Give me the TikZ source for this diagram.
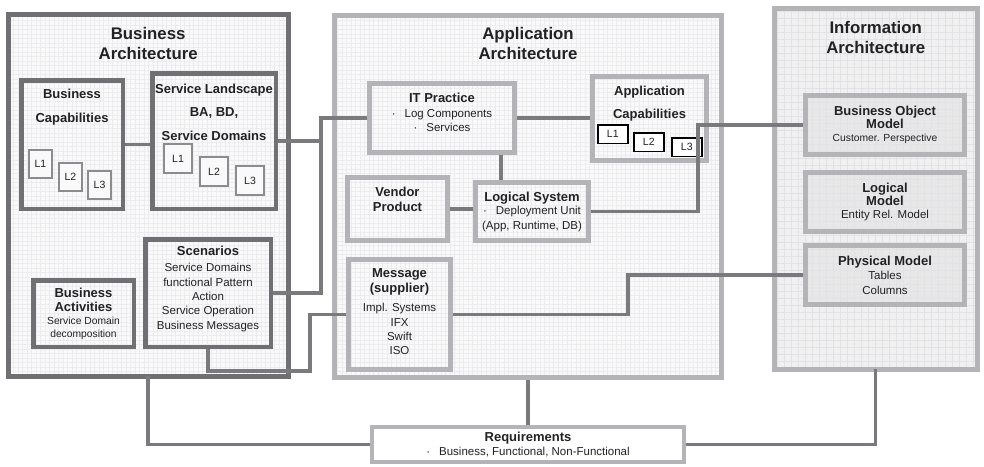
\documentclass[tikz,border=0pt]{standalone}
\usepackage{fontspec}
\setmainfont{Liberation Sans}
\usetikzlibrary{positioning,patterns.meta}
\definecolor{bizgray}{RGB}{112,112,116}
\definecolor{appgray}{RGB}{180,180,184}
\definecolor{wiregray}{RGB}{122,122,126}
\definecolor{lvlgray}{RGB}{140,140,144}
\definecolor{paper}{RGB}{249,249,249}
\definecolor{infopaper}{RGB}{240,240,241}
\definecolor{infofill}{RGB}{231,231,232}
\definecolor{gridline}{RGB}{236,236,238}
\definecolor{infogrid}{RGB}{226,226,228}
\definecolor{ink}{RGB}{34,34,36}
\newcommand\archfont{\fontsize{16.8}{20}\selectfont\bfseries}
\newcommand\headfont{\fontsize{13}{16}\selectfont\bfseries}
\newcommand\bodyfont{\fontsize{11.5}{14.3}\selectfont}
\newcommand\notefont{\fontsize{10.3}{12.6}\selectfont}

\begin{document}
\begin{tikzpicture}[x=1pt,y=-1pt,
    gridded/.style={preaction={fill=#1},
      pattern={Hatch[angle=0,distance=4.5pt,line width=0.35pt]},pattern color=gridline},
    infogridded/.style={preaction={fill=#1},
      pattern={Hatch[angle=0,distance=7pt,line width=0.45pt]},pattern color=infogrid},
    outerbox/.style={draw=#1,line width=5pt,anchor=north west,gridded=paper},
    bizbox/.style={draw=bizgray,line width=4.5pt,anchor=north west,gridded=paper},
    appbox/.style={draw=appgray,line width=5pt,anchor=north west,gridded=paper},
    infobox/.style={draw=appgray,line width=5pt,anchor=north west,infogridded=infofill,
      minimum width=159pt,minimum height=59pt,font=\notefont,text=ink,
      align=center,inner sep=0pt},
    bizlvl/.style={draw=lvlgray,line width=2pt,fill=paper,anchor=north west,
      minimum width=23pt,minimum height=28pt,font=\fontsize{10.5}{12}\selectfont,
      text=ink,inner sep=0pt},
    applvl/.style={draw=black,line width=1.5pt,fill=white,anchor=north west,
      minimum width=30pt,minimum height=18.5pt,font=\fontsize{10.5}{12}\selectfont,
      text=ink,inner sep=0pt},
    archtxt/.style={font=\archfont,align=center,inner sep=0pt,text=ink},
    headtxt/.style={font=\headfont,align=center,inner sep=0pt,text=ink},
    txt/.style={font=\bodyfont,align=center,inner sep=0pt,text=ink},
    wire/.style={draw=wiregray,line width=3.5pt}]
  \useasboundingbox (0,0) rectangle (984,466);

  % business architecture
  \node[outerbox=bizgray,minimum width=280pt,minimum height=362pt] (ba) at (8,14) {};
  \node[archtxt,below=13pt of ba.north] (batitle) {Business\\Architecture};
  \node[bizbox,minimum width=101.5pt,minimum height=128.5pt] (bcap) at (19,78) {};
  \node[headtxt,below=10.4pt of bcap.north] (bcaptxt) {Business\\[8pt]Capabilities};
  \foreach \lv/\x/\y in {1/28/149,2/58/162,3/87/170}
    \node[bizlvl] (bcap\lv) at (\x,\y) {L\lv};
  \node[bizbox,minimum width=123.5pt,minimum height=135.5pt] (sland) at (150,71) {};
  \node[headtxt,below=12.4pt of sland.north] (slandtxt) {Service Landscape\\[7.5pt]BA, BD,\\[7.5pt]Service Domains};
  \foreach \lv/\x/\y in {1/163/143,2/199/156,3/235/165}
    \node[bizlvl,minimum width=28pt,minimum height=29pt] (sland\lv) at (\x,\y) {L\lv};
  \node[bizbox,minimum width=125.5pt,minimum height=107.5pt] (scen) at (143,237) {};
  \node[txt,below=9pt of scen.north] (scentxt) {{\headfont Scenarios}\\[2pt]Service Domains\\functional Pattern\\Action\\Service Operation\\Business Messages};
  \node[bizbox,minimum width=100.5pt,minimum height=66.5pt] (bact) at (31,278) {};
  \node[txt,font=\notefont] (bacttxt) at (bact.center) {{\headfont Business}\\[2pt]{\headfont Activities}\\Service Domain\\decomposition};

  % application architecture
  \node[outerbox=appgray,minimum width=387pt,minimum height=362pt] (aa) at (332,13) {};
  \node[archtxt,below=14pt of aa.north] (aatitle) {Application\\Architecture};
  \node[appbox,minimum width=145pt,minimum height=69pt] (itp) at (367,81) {};
  \node[txt,below=11.6pt of itp.north] (itptxt) {{\headfont IT Practice}\\[0.5pt]{\textperiodcentered}\hspace{9pt}Log Components\\{\textperiodcentered}\hspace{9pt}Services};
  \node[appbox,minimum width=114pt,minimum height=84pt] (acap) at (590,74) {};
  \node[headtxt,below=11.4pt of acap.north] (acaptxt) {Application\\[7pt]Capabilities};
  \foreach \lv/\x/\y in {1/597/124,2/633/132,3/671/137}
    \node[applvl] (acap\lv) at (\x,\y) {L\lv};
  \node[appbox,minimum width=100pt,minimum height=63pt] (vend) at (345,175) {};
  \node[headtxt,below=11.4pt of vend.north] (vendtxt) {Vendor\\[-0.3pt]Product};
  \node[appbox,minimum width=113pt,minimum height=58pt] (lsys) at (473,180) {};
  \node[txt,below=12pt of lsys.north] (lsystxt) {{\headfont Logical System}\\[-1pt]{\textperiodcentered}\hspace{9pt}Deployment Unit\\(App, Runtime, DB)};
  \node[appbox,minimum width=102pt,minimum height=110pt] (msg) at (346,257) {};
  \node[txt,below=11.7pt of msg.north] (msgtxt) {{\headfont Message}\\[0.5pt]{\headfont (supplier)}\\[5pt]Impl. Systems\\IFX\\Swift\\ISO};

  % information architecture
  \node[draw=appgray,line width=5pt,anchor=north west,infogridded=infopaper,
    minimum width=203pt,minimum height=361pt] (ia) at (774,8) {};
  \node[archtxt,below=13pt of ia.north] (iatitle) {Information\\Architecture};
  \node[infobox] (bom) at (803,93) {{\headfont Business Object}\\[0.5pt]{\headfont Model}\\Customer. Perspective};
  \node[infobox] (lmod) at (803,170) {{\headfont Logical}\\[0.5pt]{\headfont Model}\\[1pt]{\bodyfont Entity Rel. Model}};
  \node[infobox,font=\bodyfont] (pmod) at (803,243) {{\headfont Physical Model}\\Tables\\[0.5pt]Columns};

  % requirements
  \node[draw=appgray,line width=4pt,fill=white,anchor=north west,
    minimum width=312pt,minimum height=35pt,txt] (req) at (370,425)
    {{\headfont Requirements}\\{\textperiodcentered}\hspace{9pt}Business, Functional, Non-Functional};

  % connectors
  \coordinate (busx) at (321,0);
  \coordinate (msgx) at (310,371);
  \coordinate (lsysx) at (698,0);
  \coordinate (msgjog) at (628,0);
  \draw[wire] (bcap.east) -- (bcap.east -| sland.west);
  \draw[wire] (sland.east) -- (sland.east -| busx);
  \draw[wire] (scen.east) -| (busx |- itp.west) -- (itp.west);
  \draw[wire] (scen.south) |- (msgx) |- (msg.west);
  \draw[wire] (itp.east) -- (itp.east -| acap.west);
  \draw[wire] ([xshift=28pt]lsys.north west) -- ([xshift=28pt]lsys.north west |- itp.south);
  \draw[wire] (vend.east) -- (vend.east -| lsys.west);
  \draw[wire] (lsys.east) -| (lsysx |- bom.west) -- (bom.west);
  \draw[wire] (msg.east) -| (msgjog |- pmod.west) -- (pmod.west);
  \draw[wire] (req.north) -- (aa.south);
  \draw[wire] (req.west) -| (ba.south);
  \draw[wire] (req.east) -| (ia.south);
\end{tikzpicture}
\end{document}
